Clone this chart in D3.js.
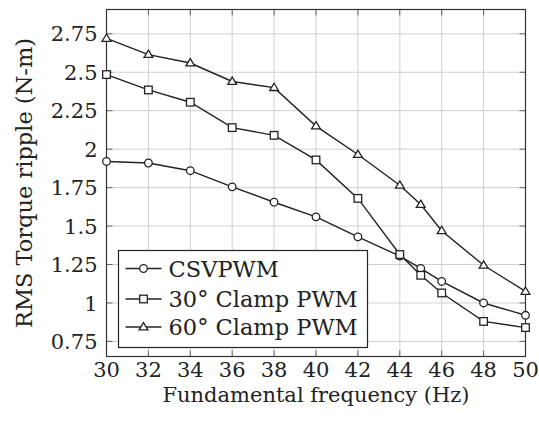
<!DOCTYPE html>
<html>
<head>
<meta charset="utf-8">
<script src="https://cdn.jsdelivr.net/npm/d3@7"></script>
<style>
  body { margin: 0; background: #fff; }
  svg text { font-family: "DejaVu Serif", serif; }
</style>
</head>
<body>
<div id="chart"></div>
<script>
// Torque ripple vs fundamental frequency

const freqs = [30, 32, 34, 36, 38, 40, 42, 44, 45, 46, 48, 50];
const csvpwm = [1.92, 1.91, 1.86, 1.755, 1.655, 1.56, 1.43, 1.305, 1.225, 1.14, 1.0, 0.92];
const clamp30 = [2.485, 2.385, 2.305, 2.14, 2.09, 1.93, 1.68, 1.315, 1.18, 1.065, 0.88, 0.84];
const clamp60 = [2.72, 2.615, 2.56, 2.44, 2.40, 2.15, 1.965, 1.765, 1.64, 1.47, 1.245, 1.075];

const xTicks = [30, 32, 34, 36, 38, 40, 42, 44, 46, 48, 50];
const yTicks = [0.75, 1, 1.25, 1.5, 1.75, 2, 2.25, 2.5, 2.75];

const series = [
  { name: "CSVPWM", values: csvpwm, marker: "circle" },
  { name: "30° Clamp PWM", values: clamp30, marker: "square" },
  { name: "60° Clamp PWM", values: clamp60, marker: "triangle" }
];

const width = 539;
const height = 425;
const margin = { top: 9.5, right: 13.5, bottom: 68.5, left: 106.5 };
const plotW = width - margin.left - margin.right;
const plotH = height - margin.top - margin.bottom;
const serif = "DejaVu Serif";

const svg = d3.select("#chart")
  .append("svg")
  .attr("width", width)
  .attr("height", height);

const g = svg.append("g")
  .attr("transform", `translate(${margin.left}, ${margin.top})`);

const x = d3.scaleLinear().domain([30, 50]).range([0, plotW]);
const y = d3.scaleLinear().domain([0.652, 2.908]).range([plotH, 0]);

// grid
g.selectAll(".vgrid").data(xTicks).enter()
  .append("line")
  .attr("x1", d => x(d)).attr("x2", d => x(d))
  .attr("y1", 0).attr("y2", plotH)
  .attr("stroke", "#d0d0d0").attr("stroke-width", 1);

g.selectAll(".hgrid").data(yTicks).enter()
  .append("line")
  .attr("x1", 0).attr("x2", plotW)
  .attr("y1", d => y(d)).attr("y2", d => y(d))
  .attr("stroke", "#d0d0d0").attr("stroke-width", 1);

// inner tick marks on all four sides
const tickLen = 6;
xTicks.forEach(t => {
  g.append("line").attr("x1", x(t)).attr("x2", x(t)).attr("y1", plotH).attr("y2", plotH - tickLen)
    .attr("stroke", "#444").attr("stroke-width", 0.8);
  g.append("line").attr("x1", x(t)).attr("x2", x(t)).attr("y1", 0).attr("y2", tickLen)
    .attr("stroke", "#444").attr("stroke-width", 0.8);
});
yTicks.forEach(t => {
  g.append("line").attr("x1", 0).attr("x2", tickLen).attr("y1", y(t)).attr("y2", y(t))
    .attr("stroke", "#444").attr("stroke-width", 0.8);
  g.append("line").attr("x1", plotW).attr("x2", plotW - tickLen).attr("y1", y(t)).attr("y2", y(t))
    .attr("stroke", "#444").attr("stroke-width", 0.8);
});

// frame
g.append("rect")
  .attr("x", 0).attr("y", 0)
  .attr("width", plotW).attr("height", plotH)
  .attr("fill", "none").attr("stroke", "#333").attr("stroke-width", 1.2);

// tick labels
const fontSize = 21;
g.selectAll(".xlab").data(xTicks).enter()
  .append("text")
  .attr("x", d => x(d))
  .attr("y", plotH + 20.5)
  .attr("text-anchor", "middle")
  .attr("font-family", serif)
  .attr("font-size", fontSize)
  .attr("fill", "#222")
  .text(d => d);

g.selectAll(".ylab").data(yTicks).enter()
  .append("text")
  .attr("x", -9)
  .attr("y", d => y(d))
  .attr("dy", "0.36em")
  .attr("text-anchor", "end")
  .attr("font-family", serif)
  .attr("font-size", fontSize)
  .attr("fill", "#222")
  .text(d => d);

// axis titles
svg.append("text")
  .attr("x", margin.left + plotW / 2)
  .attr("y", 402)
  .attr("text-anchor", "middle")
  .attr("font-family", serif)
  .attr("font-size", 21)
  .attr("fill", "#222")
  .text("Fundamental frequency (Hz)");

svg.append("text")
  .attr("transform", `translate(32, ${margin.top + plotH / 2}) rotate(-90)`)
  .attr("text-anchor", "middle")
  .attr("font-family", serif)
  .attr("font-size", 22.5)
  .attr("fill", "#222")
  .text("RMS Torque ripple (N-m)");

// markers
function drawMarker(sel, type, cx, cy) {
  if (type === "circle") {
    sel.append("circle").attr("cx", cx).attr("cy", cy).attr("r", 3.8)
      .attr("fill", "#fff").attr("stroke", "#222").attr("stroke-width", 1.3);
  } else if (type === "square") {
    sel.append("rect").attr("x", cx - 3.8).attr("y", cy - 3.8).attr("width", 7.6).attr("height", 7.6)
      .attr("fill", "#fff").attr("stroke", "#222").attr("stroke-width", 1.3);
  } else {
    const s = 4.4;
    sel.append("path")
      .attr("d", `M${cx},${cy - s} L${cx + s},${cy + s * 0.65} L${cx - s},${cy + s * 0.65} Z`)
      .attr("fill", "#fff").attr("stroke", "#222").attr("stroke-width", 1.3);
  }
}

const line = d3.line().x(d => x(d[0])).y(d => y(d[1]));

series.forEach(s => {
  const pts = freqs.map((f, i) => [f, s.values[i]]);
  g.append("path")
    .datum(pts)
    .attr("d", line)
    .attr("fill", "none")
    .attr("stroke", "#222")
    .attr("stroke-width", 1.4);
  const mg = g.append("g");
  pts.forEach(p => drawMarker(mg, s.marker, x(p[0]), y(p[1])));
});

// legend
const lx = 118.5 - margin.left, ly = 250.5 - margin.top;
const lw = 249, lh = 97;
const legend = g.append("g");
legend.append("rect")
  .attr("x", lx).attr("y", ly).attr("width", lw).attr("height", lh)
  .attr("fill", "#fff").attr("stroke", "#222").attr("stroke-width", 1.2);

const rowY = [18, 48.5, 76.5];
series.forEach((s, i) => {
  const cy = ly + rowY[i];
  legend.append("line")
    .attr("x1", lx + 7).attr("x2", lx + 43)
    .attr("y1", cy).attr("y2", cy)
    .attr("stroke", "#222").attr("stroke-width", 1.4);
  drawMarker(legend, s.marker, lx + 25, cy);
  legend.append("text")
    .attr("x", lx + 50)
    .attr("y", cy)
    .attr("dy", "0.36em")
    .attr("font-family", serif)
    .attr("font-size", 22.5)
    .attr("fill", "#222")
    .text(s.name);
});
</script>
</body>
</html>
